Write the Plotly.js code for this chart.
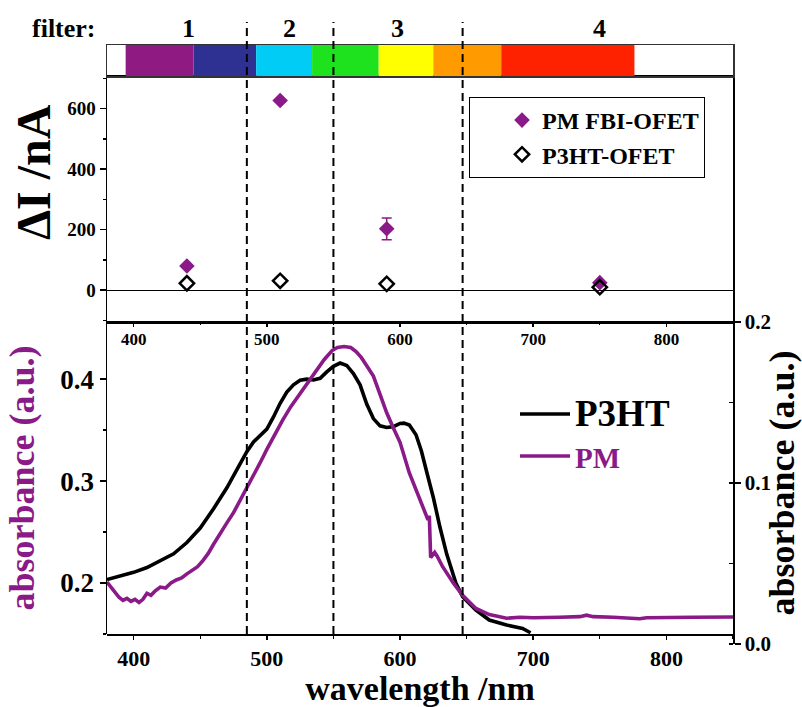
<!DOCTYPE html>
<html>
<head>
<meta charset="utf-8">
<script src="https://cdn.plot.ly/plotly-3.0.1.min.js"></script>
<style>html,body{margin:0;padding:0;background:#fff;}#chart{width:802px;height:707px;}</style>
</head>
<body>
<div id="chart"></div>
<script>
// ---- absorbance spectra ----
const wlPM = [380,383,386,389,392,395,398,401,404,407,410,413,416,420,424,428,432,436,440,444,448,452,456,460,465,470,475,480,485,490,495,500,506,512,518,525,531,537,543,549,553,558,563,567,571,575,580,585,590,595,600,607,612,617,621,622,623,626,628,632,640,647,657,667,680,690,700,720,735,740,745,760,775,780,785,800,820,850];
const absPM = [0.201,0.196,0.190,0.186,0.183,0.185,0.182,0.184,0.181,0.184,0.190,0.188,0.192,0.196,0.195,0.200,0.203,0.205,0.209,0.212,0.216,0.222,0.229,0.238,0.249,0.259,0.269,0.281,0.293,0.306,0.318,0.331,0.346,0.360,0.373,0.386,0.398,0.409,0.419,0.428,0.431,0.432,0.431,0.427,0.421,0.413,0.403,0.385,0.367,0.352,0.338,0.308,0.292,0.275,0.262,0.266,0.225,0.230,0.226,0.216,0.200,0.188,0.175,0.169,0.1655,0.1665,0.166,0.1665,0.167,0.1685,0.167,0.1665,0.1655,0.165,0.166,0.1665,0.1665,0.1667];

const wlP3HT = [380,390,400,410,420,430,440,450,460,470,480,485,490,495,500,505,510,515,520,525,530,535,540,545,550,555,560,565,570,575,580,585,590,595,600,603,607,612,616,620,625,630,635,642,647,657,667,680,692,698];
const absP3HT = [0.0400,0.0420,0.0445,0.0475,0.0515,0.0560,0.0630,0.0720,0.0840,0.0970,0.1120,0.1195,0.1255,0.1292,0.1335,0.1410,0.1495,0.1565,0.1610,0.1638,0.1645,0.1640,0.1650,0.1690,0.1725,0.1745,0.1730,0.1680,0.1610,0.1490,0.1400,0.1355,0.1345,0.1350,0.1370,0.1372,0.1360,0.1300,0.1200,0.1070,0.0910,0.0725,0.0560,0.0377,0.0294,0.0211,0.0149,0.0118,0.0097,0.0070];

// ---- photocurrent per filter ----
const filterWl = [440, 510, 590, 750];
const dI_PM = [80, 627, 203, 25];
const dI_PM_err = [3, 5, 36, 3];
const dI_P3HT = [23, 31, 21, 10];

// ---- filter colour bar ----
const colorStart = [394, 445, 492, 534, 584, 625, 676];
const colorEnd   = [445, 492, 534, 584, 625, 676, 776];
const colorHex   = ['#8E1A82', '#2E3192', '#00CCF5', '#1DE21D', '#FFFF00', '#FF9B00', '#FF2200'];
const dividers = [485, 550, 647];
const filterLabels = ['1', '2', '3', '4'];
const filterLabelX = [441, 517, 598, 750];

const PURPLE = '#8B1A89';
const FONT = 'Liberation Serif, Times New Roman, serif';
const f = (size, color) => ({family: FONT, size: size, color: color || '#000', weight: 'bold'});

const xr = [380, 850];
const xticks = [400, 500, 600, 700, 800];

const traces = [
  {
    type: 'scatter', mode: 'markers', name: 'PM FBI-OFET',
    x: filterWl, y: dI_PM, xaxis: 'x2', yaxis: 'y2',
    marker: {symbol: 'diamond', size: 12, color: PURPLE},
    error_y: {type: 'data', array: dI_PM_err, color: PURPLE, thickness: 1.5, width: 5},
    legend: 'legend'
  },
  {
    type: 'scatter', mode: 'markers', name: 'P3HT-OFET',
    x: filterWl, y: dI_P3HT, xaxis: 'x2', yaxis: 'y2',
    marker: {symbol: 'diamond-open', size: 11, color: '#000', line: {width: 2.5, color: '#000'}},
    legend: 'legend'
  },
  {
    type: 'scatter', mode: 'lines', name: '<span style="font-size:37px">P3HT</span>',
    x: wlP3HT, y: absP3HT, xaxis: 'x', yaxis: 'y3',
    line: {color: '#000', width: 3.6},
    legend: 'legend2'
  },
  {
    type: 'scatter', mode: 'lines', name: '<span style="font-size:29px;color:' + PURPLE + '">PM</span>',
    x: wlPM, y: absPM, xaxis: 'x3', yaxis: 'y',
    line: {color: PURPLE, width: 3.6},
    legend: 'legend2'
  },
  {
    type: 'bar', x: colorStart.map((s, i) => (s + colorEnd[i]) / 2),
    y: colorStart.map(() => 1), width: colorStart.map((s, i) => colorEnd[i] - s),
    base: 0, marker: {color: colorHex, line: {width: 0}},
    xaxis: 'x4', yaxis: 'y4', showlegend: false, hoverinfo: 'skip'
  }
];

// paper: plot area spans y px 20..644 (height 624)
const py = Y => (644 - Y) / 624;
const px = X => (X - 107) / 626;

const axBase = {showgrid: false, zeroline: false, showline: true, linecolor: '#000', linewidth: 1.5, tickcolor: '#000', tickwidth: 1.5};

const layout = {
  width: 802, height: 707,
  margin: {l: 107, r: 69, t: 20, b: 63},
  paper_bgcolor: '#fff', plot_bgcolor: 'rgba(0,0,0,0)',
  font: {family: FONT, color: '#000'},
  barmode: 'overlay',
  xaxis: Object.assign({}, axBase, {
    domain: [0, 1], anchor: 'y', range: xr, tickvals: xticks, ticks: 'outside', ticklen: 4,
    minor: {dtick: 50, tick0: 400, ticks: 'outside', ticklen: 3, tickcolor: '#000', tickwidth: 1.2},
    tickfont: f(22), title: {text: 'wavelength /nm', font: f(34), standoff: 11}
  }),
  xaxis3: Object.assign({}, axBase, {
    overlaying: 'x', anchor: 'y', side: 'top', range: xr, tickvals: xticks,
    ticks: 'inside', ticklen: 5, ticklabelposition: 'inside', ticklabelstandoff: 7,
    minor: {dtick: 50, tick0: 400, ticks: 'inside', ticklen: 3, tickcolor: '#000', tickwidth: 1.2},
    tickfont: f(17)
  }),
  xaxis2: Object.assign({}, axBase, {
    domain: [0, 1], anchor: 'y2', range: xr, showticklabels: false, ticks: '', mirror: true
  }),
  xaxis4: Object.assign({}, axBase, {
    domain: [0, 1], anchor: 'y4', range: xr, showticklabels: false, ticks: '', mirror: true, linecolor: '#333'
  }),
  yaxis: Object.assign({}, axBase, {
    domain: [py(634), py(322)], anchor: 'x', range: [0.15, 0.456], tickvals: [0.2, 0.3, 0.4], tickformat: '.1f',
    ticks: 'outside', ticklen: 6,
    minor: {dtick: 0.05, tick0: 0.2, ticks: 'outside', ticklen: 3, tickcolor: '#000', tickwidth: 1.2},
    tickfont: f(27), title: {text: 'absorbance (a.u.)', font: f(36, PURPLE), standoff: 14}
  }),
  yaxis3: Object.assign({}, axBase, {
    domain: [0, py(322)], anchor: 'x', side: 'right', range: [0, 0.2], tickvals: [0, 0.1, 0.2], tickformat: '.1f',
    ticks: 'outside', ticklen: 6,
    minor: {dtick: 0.05, tick0: 0, ticks: 'inside', ticklen: 4, tickcolor: '#000', tickwidth: 1.2},
    tickfont: f(21), title: {text: 'absorbance (a.u.)', font: f(36), standoff: 10}
  }),
  yaxis2: Object.assign({}, axBase, {
    domain: [py(322), py(76)], anchor: 'x2', range: [-105, 708], tickvals: [0, 200, 400, 600],
    ticks: 'outside', ticklen: 6, mirror: true,
    minor: {dtick: 100, tick0: 0, ticks: 'outside', ticklen: 3, tickcolor: '#000', tickwidth: 1.2},
    tickfont: f(19), zeroline: true, zerolinecolor: '#000', zerolinewidth: 1.3
  }),
  yaxis4: Object.assign({}, axBase, {
    domain: [py(76), py(45)], anchor: 'x4', range: [0, 1], showticklabels: false, ticks: '', mirror: true, linecolor: '#333'
  }),
  legend: {
    x: px(469), y: py(97), xanchor: 'left', yanchor: 'top',
    bordercolor: '#000', borderwidth: 1, bgcolor: '#fff', font: f(24), indentation: 32,
    tracegroupgap: 0
  },
  legend2: {
    x: px(515), y: py(388), xanchor: 'left', yanchor: 'top',
    borderwidth: 0, bgcolor: 'rgba(0,0,0,0)', font: f(30), itemwidth: 50, tracegroupgap: 0
  },
  shapes: dividers.map(d => ({
    type: 'line', xref: 'x', yref: 'paper', x0: d, x1: d, y0: py(634), y1: py(22),
    line: {color: '#000', width: 2, dash: '8px,5px'}, layer: 'above'
  })),
  annotations: filterLabels.map((t, i) => ({
    xref: 'x', yref: 'paper', x: filterLabelX[i], y: py(29), text: t, showarrow: false,
    font: f(26), xanchor: 'center', yanchor: 'middle'
  })).concat([
    {xref: 'paper', yref: 'paper', x: px(64), y: py(29), text: 'filter:', showarrow: false,
     font: f(26), xanchor: 'center', yanchor: 'middle'},
    {xref: 'paper', yref: 'paper', x: px(33), y: py(172), text: 'ΔI /nA', showarrow: false,
     font: f(48), textangle: -90, xanchor: 'center', yanchor: 'middle'}
  ])
};

Plotly.newPlot('chart', traces, layout, {displayModeBar: false, staticPlot: true});
</script>
</body>
</html>
